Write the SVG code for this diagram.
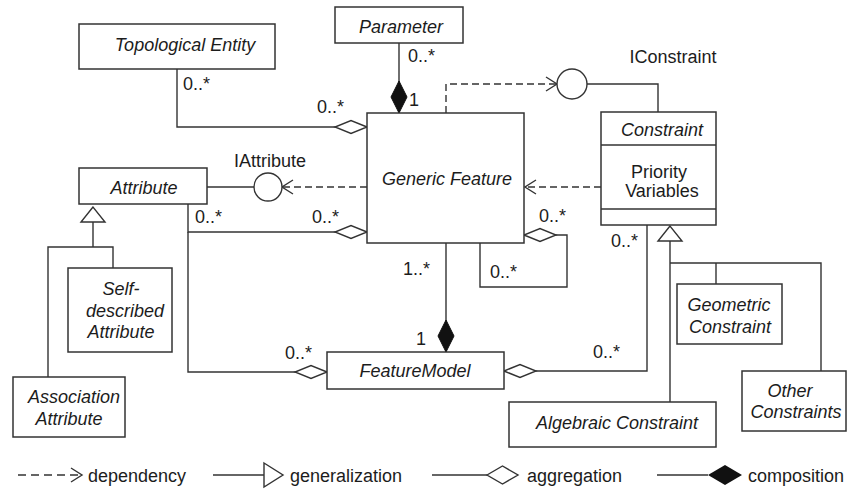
<svg xmlns="http://www.w3.org/2000/svg" width="850" height="491" viewBox="0 0 850 491">
  <style>
    text { font-family: "Liberation Sans", Arial, sans-serif; font-size: 18px; fill: #1c1c1c; }
    .it { font-style: italic; }
    .mid { text-anchor: middle; }
    .box { fill: #fff; stroke: #333; stroke-width: 1.5; }
    .ln { fill: none; stroke: #333; stroke-width: 1.4; }
    .dash { fill: none; stroke: #333; stroke-width: 1.4; stroke-dasharray: 7 4; }
    .lollipop { fill: #fff; stroke: #333; stroke-width: 1.4; }
  </style>
  <defs>
    <marker id="arrowOpen" markerUnits="userSpaceOnUse" orient="auto" overflow="visible" refX="0" refY="0" markerWidth="1" markerHeight="1">
      <path d="M-11,-7 L0,0 L-11,7" fill="none" stroke="#333" stroke-width="1.4" stroke-dasharray="none"/>
    </marker>
    <marker id="diamondOpen" markerUnits="userSpaceOnUse" orient="auto" overflow="visible" refX="0" refY="0" markerWidth="1" markerHeight="1">
      <path d="M0,0 L-16,-6.5 L-32,0 L-16,6.5 Z" fill="#fff" stroke="#333" stroke-width="1.4"/>
    </marker>
    <marker id="diamondFilled" markerUnits="userSpaceOnUse" orient="auto" overflow="visible" refX="0" refY="0" markerWidth="1" markerHeight="1">
      <path d="M0,0 L-16,-8 L-32,0 L-16,8 Z" fill="#111" stroke="#111" stroke-width="1"/>
    </marker>
    <marker id="triangleOpen" markerUnits="userSpaceOnUse" orient="auto" overflow="visible" refX="0" refY="0" markerWidth="1" markerHeight="1">
      <path d="M0,0 L-15,-12 L-15,12 Z" fill="#fff" stroke="#333" stroke-width="1.4"/>
    </marker>
  </defs>

  <!-- connectors -->
  <g id="connectors">
    <!-- Topological Entity aggregated by Generic Feature -->
    <path class="ln" d="M177,69 V127 H367" marker-end="url(#diamondOpen)"/>
    <!-- Parameter composed into Generic Feature -->
    <path class="ln" d="M399,43 V113" marker-end="url(#diamondFilled)"/>
    <!-- Generic Feature uses IConstraint -->
    <path class="dash" d="M446,113 V84 H557" marker-end="url(#arrowOpen)"/>
    <circle class="lollipop" cx="572" cy="84" r="15"/>
    <path class="ln" d="M587,84 H658 V112"/>
    <!-- Constraint depends on Generic Feature -->
    <path class="dash" d="M601,187 H525" marker-end="url(#arrowOpen)"/>
    <!-- Generic Feature uses IAttribute -->
    <path class="dash" d="M367,187 H282" marker-end="url(#arrowOpen)"/>
    <circle class="lollipop" cx="268" cy="187" r="14"/>
    <path class="ln" d="M207,187 H254"/>
    <!-- Attribute aggregations -->
    <path class="ln" d="M188,204 V232 H367" marker-end="url(#diamondOpen)"/>
    <path class="ln" d="M188,232 V372 H327" marker-end="url(#diamondOpen)"/>
    <!-- Generic Feature self aggregation -->
    <path class="ln" d="M480,243 V287 H567 V235 H524" marker-end="url(#diamondOpen)"/>
    <!-- Generic Feature composed into FeatureModel -->
    <path class="ln" d="M446,243 V352" marker-end="url(#diamondFilled)"/>
    <!-- Constraint aggregated by FeatureModel -->
    <path class="ln" d="M647,225 V371 H504" marker-end="url(#diamondOpen)"/>
    <!-- Constraint generalization -->
    <path class="ln" d="M670,402 V226" marker-end="url(#triangleOpen)"/>
    <path class="ln" d="M670,263 H821 V371"/>
    <path class="ln" d="M716,263 V284"/>
    <!-- Attribute generalization -->
    <path class="ln" d="M93,247 V207" marker-end="url(#triangleOpen)"/>
    <path class="ln" d="M48,377 V247 H113 V268"/>

    <!-- multiplicities -->
    <text x="183" y="90">0..*</text>
    <text x="317" y="113">0..*</text>
    <text x="408" y="62">0..*</text>
    <text x="409" y="106">1</text>
    <text x="195" y="223">0..*</text>
    <text x="312" y="223">0..*</text>
    <text x="539" y="222">0..*</text>
    <text x="490" y="278">0..*</text>
    <text x="403" y="275">1..*</text>
    <text x="416" y="345">1</text>
    <text x="285" y="359">0..*</text>
    <text x="611" y="247">0..*</text>
    <text x="593" y="358">0..*</text>
    <text x="673" y="63" class="mid">IConstraint</text>
    <text x="270" y="167" class="mid">IAttribute</text>
  </g>

  <!-- nodes -->
  <g id="topological-entity">
    <rect class="box" x="79" y="24" width="196" height="45"/>
    <text class="it mid" x="185" y="51">Topological Entity</text>
  </g>
  <g id="parameter">
    <rect class="box" x="335" y="7" width="128" height="36"/>
    <text class="it mid" x="401" y="33">Parameter</text>
  </g>
  <g id="generic-feature">
    <rect class="box" x="367" y="113" width="157" height="130"/>
    <text class="it mid" x="447" y="185">Generic Feature</text>
  </g>
  <g id="constraint">
    <rect class="box" x="601" y="112" width="115" height="113"/>
    <line class="ln" x1="601" y1="145" x2="716" y2="145"/>
    <line class="ln" x1="601" y1="209" x2="716" y2="209"/>
    <text class="it mid" x="662" y="136">Constraint</text>
    <text class="mid" x="659" y="178">Priority</text>
    <text class="mid" x="662" y="197">Variables</text>
  </g>
  <g id="attribute">
    <rect class="box" x="79" y="168" width="128" height="36"/>
    <text class="it mid" x="144" y="194">Attribute</text>
  </g>
  <g id="self-described-attribute">
    <rect class="box" x="68" y="268" width="104" height="84"/>
    <text class="it mid" x="121" y="295">Self-</text>
    <text class="it mid" x="125" y="317">described</text>
    <text class="it mid" x="121" y="338">Attribute</text>
  </g>
  <g id="association-attribute">
    <rect class="box" x="13" y="377" width="112" height="60"/>
    <text class="it mid" x="74" y="403">Association</text>
    <text class="it mid" x="69" y="425">Attribute</text>
  </g>
  <g id="feature-model">
    <rect class="box" x="327" y="352" width="177" height="37"/>
    <text class="it mid" x="415" y="377">FeatureModel</text>
  </g>
  <g id="algebraic-constraint">
    <rect class="box" x="509" y="402" width="207" height="45"/>
    <text class="it mid" x="617" y="429">Algebraic Constraint</text>
  </g>
  <g id="geometric-constraint">
    <rect class="box" x="677" y="284" width="105" height="60"/>
    <text class="it mid" x="729" y="311">Geometric</text>
    <text class="it mid" x="730" y="333">Constraint</text>
  </g>
  <g id="other-constraints">
    <rect class="box" x="742" y="371" width="104" height="60"/>
    <text class="it mid" x="790" y="397">Other</text>
    <text class="it mid" x="796" y="418">Constraints</text>
  </g>

  <!-- legend -->
  <g id="legend">
    <path class="ln" d="M18,475 H80" stroke-dasharray="8 5"/>
    <path class="ln" d="M71,468 L82,475 L71,482"/>
    <text x="88" y="482">dependency</text>
    <path class="ln" d="M213,475 H264"/>
    <path class="ln" d="M264,463 L283,475 L264,487 Z" fill="#fff"/>
    <text x="290" y="482">generalization</text>
    <path class="ln" d="M432,475 H487"/>
    <path class="ln" d="M487,475 L502.5,466 L518,475 L502.5,484 Z" fill="#fff"/>
    <text x="527" y="482">aggregation</text>
    <path class="ln" d="M657,475 H708"/>
    <path d="M708,475 L725,465 L742,475 L725,485 Z" fill="#111"/>
    <text x="748" y="482">composition</text>
  </g>
</svg>
